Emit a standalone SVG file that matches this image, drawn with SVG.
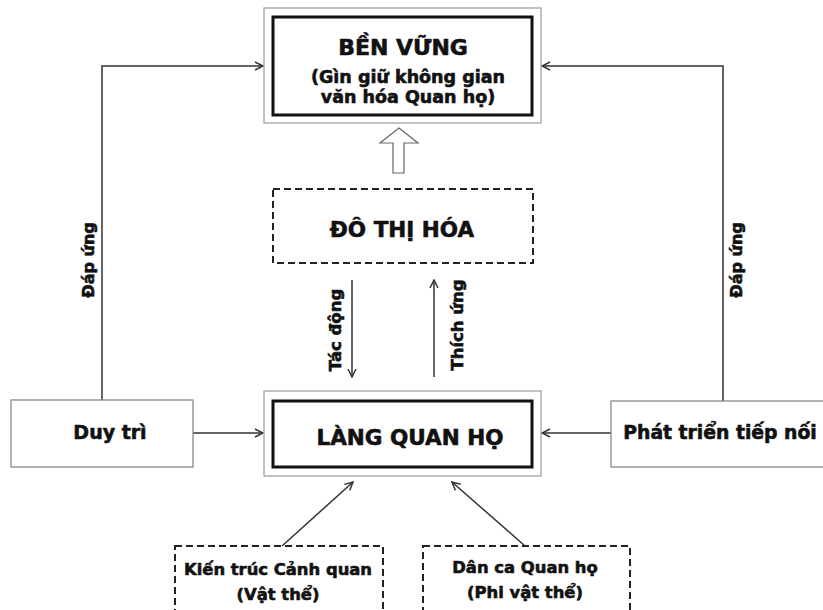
<svg xmlns="http://www.w3.org/2000/svg" width="823" height="610" viewBox="0 0 823 610">
  <defs>
    <marker id="chev" viewBox="0 0 10 10" refX="9" refY="5" markerWidth="10" markerHeight="10" markerUnits="userSpaceOnUse" orient="auto">
      <path d="M1,1 L9,5 L1,9" fill="none" stroke="#333" stroke-width="1.5"/>
    </marker>
    <style>
      text { font-family: "DejaVu Sans", "Noto Sans", sans-serif; font-weight: bold; fill: #111; stroke: #111; stroke-width: 0.6; stroke-linejoin: round; }
      .outer { fill: #fff; stroke: #999; stroke-width: 1.2; }
      .inner { fill: none; stroke: #111; stroke-width: 3; }
      .plain { fill: #fff; stroke: #888; stroke-width: 1.3; }
      .dash { fill: #fff; stroke: #222; stroke-width: 2; stroke-dasharray: 7 4; }
      .conn { fill: none; stroke: #333; stroke-width: 1.5; marker-end: url(#chev); }
      .mid { text-anchor: middle; }
    </style>
  </defs>
  <rect width="823" height="610" fill="#fff"/>

  <!-- connectors -->
  <g id="connectors">
    <path class="conn" d="M102,400 V66 H263"/>
    <path class="conn" d="M723,401 V66 H542"/>
    <path class="conn" d="M193,433 H263"/>
    <path class="conn" d="M611,433 H542"/>
    <path class="conn" d="M352,280 V377"/>
    <path class="conn" d="M434,377 V280"/>
    <path class="conn" d="M282,546 L353,482"/>
    <path class="conn" d="M525,546 L452,482"/>
    <polygon points="399,128 418,143 404,143 404,173 393,173 393,143 380,143" fill="#fff" stroke="#666" stroke-width="1.2"/>
    <text class="mid" font-size="16" transform="translate(94,260) rotate(-90)">Đáp ứng</text>
    <text class="mid" font-size="16" transform="translate(742,260) rotate(-90)">Đáp ứng</text>
    <text class="mid" font-size="16.5" transform="translate(341,330) rotate(-90)">Tác động</text>
    <text class="mid" font-size="16.5" transform="translate(463,325) rotate(-90)">Thích ứng</text>
  </g>

  <!-- sustainable goal -->
  <g id="ben-vung">
    <rect class="outer" x="264" y="8" width="277" height="115"/>
    <rect class="inner" x="273" y="17" width="259" height="98"/>
    <text class="mid" x="403" y="55" font-size="22">BỀN VỮNG</text>
    <text class="mid" x="408" y="83" font-size="17.5">(Gìn giữ không gian</text>
    <text class="mid" x="408" y="103" font-size="17.5">văn hóa Quan họ)</text>
  </g>

  <!-- urbanisation -->
  <g id="do-thi-hoa">
    <rect class="dash" x="273" y="189" width="260" height="74"/>
    <text class="mid" x="402" y="237" font-size="21.5">ĐÔ THỊ HÓA</text>
  </g>

  <!-- the village -->
  <g id="lang-quan-ho">
    <rect class="outer" x="264" y="391" width="277" height="85"/>
    <rect class="inner" x="273" y="401" width="259" height="66"/>
    <text class="mid" x="410" y="445" font-size="21.5">LÀNG QUAN HỌ</text>
  </g>

  <g id="duy-tri">
    <rect class="plain" x="11" y="400" width="182" height="67"/>
    <text class="mid" x="110" y="439" font-size="19">Duy trì</text>
  </g>

  <g id="phat-trien">
    <rect class="plain" x="611" y="401" width="230" height="66"/>
    <text class="mid" x="720" y="439" font-size="18.8">Phát triển tiếp nối</text>
  </g>

  <g id="kien-truc">
    <rect class="dash" x="175" y="546" width="208" height="80"/>
    <text class="mid" x="278" y="575" font-size="16.4">Kiến trúc Cảnh quan</text>
    <text class="mid" x="278" y="600" font-size="16.4">(Vật thể)</text>
  </g>

  <g id="dan-ca">
    <rect class="dash" x="423" y="546" width="207" height="80"/>
    <text class="mid" x="525" y="573" font-size="16.4">Dân ca Quan họ</text>
    <text class="mid" x="525" y="598" font-size="16.4">(Phi vật thể)</text>
  </g>
</svg>
